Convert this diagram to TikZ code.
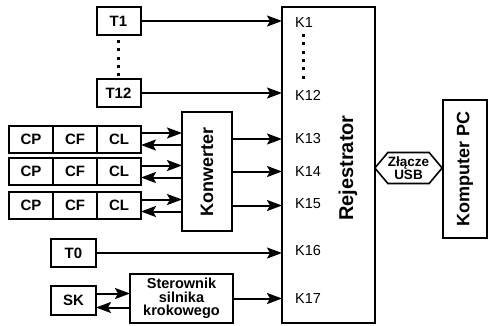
\documentclass[tikz,border=0pt]{standalone}
\usepackage{fontspec}
\setmainfont{Liberation Sans}
\usetikzlibrary{positioning, arrows.meta, shapes.symbols}

\begin{document}
\begin{tikzpicture}[
    x=1pt, y=-1pt,
    box/.style={
        rectangle, draw, line width=2pt, inner sep=0pt, outer sep=0pt,
        align=center, font=\fontsize{15}{12.5}\selectfont\bfseries
    },
    cell/.style={box, minimum width=44pt, minimum height=27pt},
    sensor/.style={box, minimum width=44pt, minimum height=28pt},
    vlbl/.style={rotate=90, font=\fontsize{18}{21}\selectfont\bfseries},
    chan/.style={anchor=west, inner sep=0pt, font=\fontsize{14.5}{16}\selectfont},
    usbhex/.style={
        signal, signal to=west and east, signal pointer angle=100,
        draw, line width=1.6pt, inner sep=0pt,
        minimum width=67pt, minimum height=31pt,
        align=center, font=\fontsize{13.5}{12.4}\selectfont\bfseries
    },
    sig/.style={
        -{Stealth[length=15pt, width=11pt, inset=3pt]},
        line width=2pt
    },
    dots/.style={line width=3pt, dash pattern=on 3pt off 5.3pt}
]

\useasboundingbox (0,0) rectangle (488,325);

% --- main blocks ---
\node[box, minimum width=93pt, minimum height=316pt] (rej) at (328.5,165) {};
\node[vlbl, font=\fontsize{20}{24}\selectfont\bfseries] (rejlbl) at (348,168) {Rejestrator};
\node[usbhex] (usb) at (408.5,168) {Złącze\\USB};
\node[box, minimum width=43.5pt, minimum height=138pt,
      label={[vlbl]center:Komputer PC}] (pc) at (465,169) {};

% --- channel labels ---
\node[chan] (k1)  at (295,23)  {K1};
\node[chan] (k12) at (295,95)  {K12};
\node[chan] (k13) at (295,139) {K13};
\node[chan] (k14) at (295,172) {K14};
\node[chan] (k15) at (295,204) {K15};
\node[chan] (k16) at (295,251) {K16};
\node[chan] (k17) at (295,299) {K17};
\draw[dots, shorten <=6pt, shorten >=10pt]
    ([xshift=8pt]k1.south west) -- ([xshift=8pt]k12.north west);

% --- temperature sensors ---
\node[sensor] (T1)  at (118.5,21) {T1};
\node[sensor] (T12) at (118.5,93) {T12};
\draw[dots, shorten <=5pt, shorten >=0pt] (T1.south) -- (T12.north);
\draw[sig] (T1.east) -- (T1.east -| rej.west);
\draw[sig] (T12.east) -- (T12.east -| rej.west);

% --- CP / CF / CL rows and converter ---
\foreach \r/\yy in {1/139, 2/171.5, 3/205.5} {
    \node[cell] (cp\r) at (31,\yy) {CP};
    \node[cell, right=0pt of cp\r] (cf\r) {CF};
    \node[cell, right=0pt of cf\r] (cl\r) {CL};
}
\node[box, minimum width=50pt, minimum height=119pt,
      label={[vlbl]center:Konwerter}] (konw) at (207,171.5) {};

\foreach \r in {1,2,3} {
    \coordinate (up\r) at ([yshift=6pt]cl\r.east);
    \coordinate (dn\r) at ([yshift=-6pt]cl\r.east);
    \draw[sig] (up\r) -- (up\r -| konw.west);
    \draw[sig] (dn\r -| konw.west) -- (dn\r);
    \draw[sig] (cl\r.east -| konw.east) -- (cl\r.east -| rej.west);
}

% --- T0 ---
\node[sensor, minimum width=45pt] (T0) at (73.5,253) {T0};
\draw[sig] (T0.east) -- (T0.east -| rej.west);

% --- stepper motor ---
\node[sensor, minimum width=45pt, minimum height=29pt] (SK) at (73.5,300.5) {SK};
\node[box, minimum width=103pt, minimum height=49pt,
      font=\fontsize{14.5}{13.5}\selectfont\bfseries] (ster) at (181.5,298.5)
    {Sterownik\\silnika\\krokowego};
\coordinate (skup) at ([yshift=7pt]SK.east);
\coordinate (skdn) at ([yshift=-7pt]SK.east);
\draw[sig] (skup) -- (skup -| ster.west);
\draw[sig] (skdn -| ster.west) -- (skdn);
\draw[sig] (ster.east) -- (ster.east -| rej.west);

\end{tikzpicture}
\end{document}
